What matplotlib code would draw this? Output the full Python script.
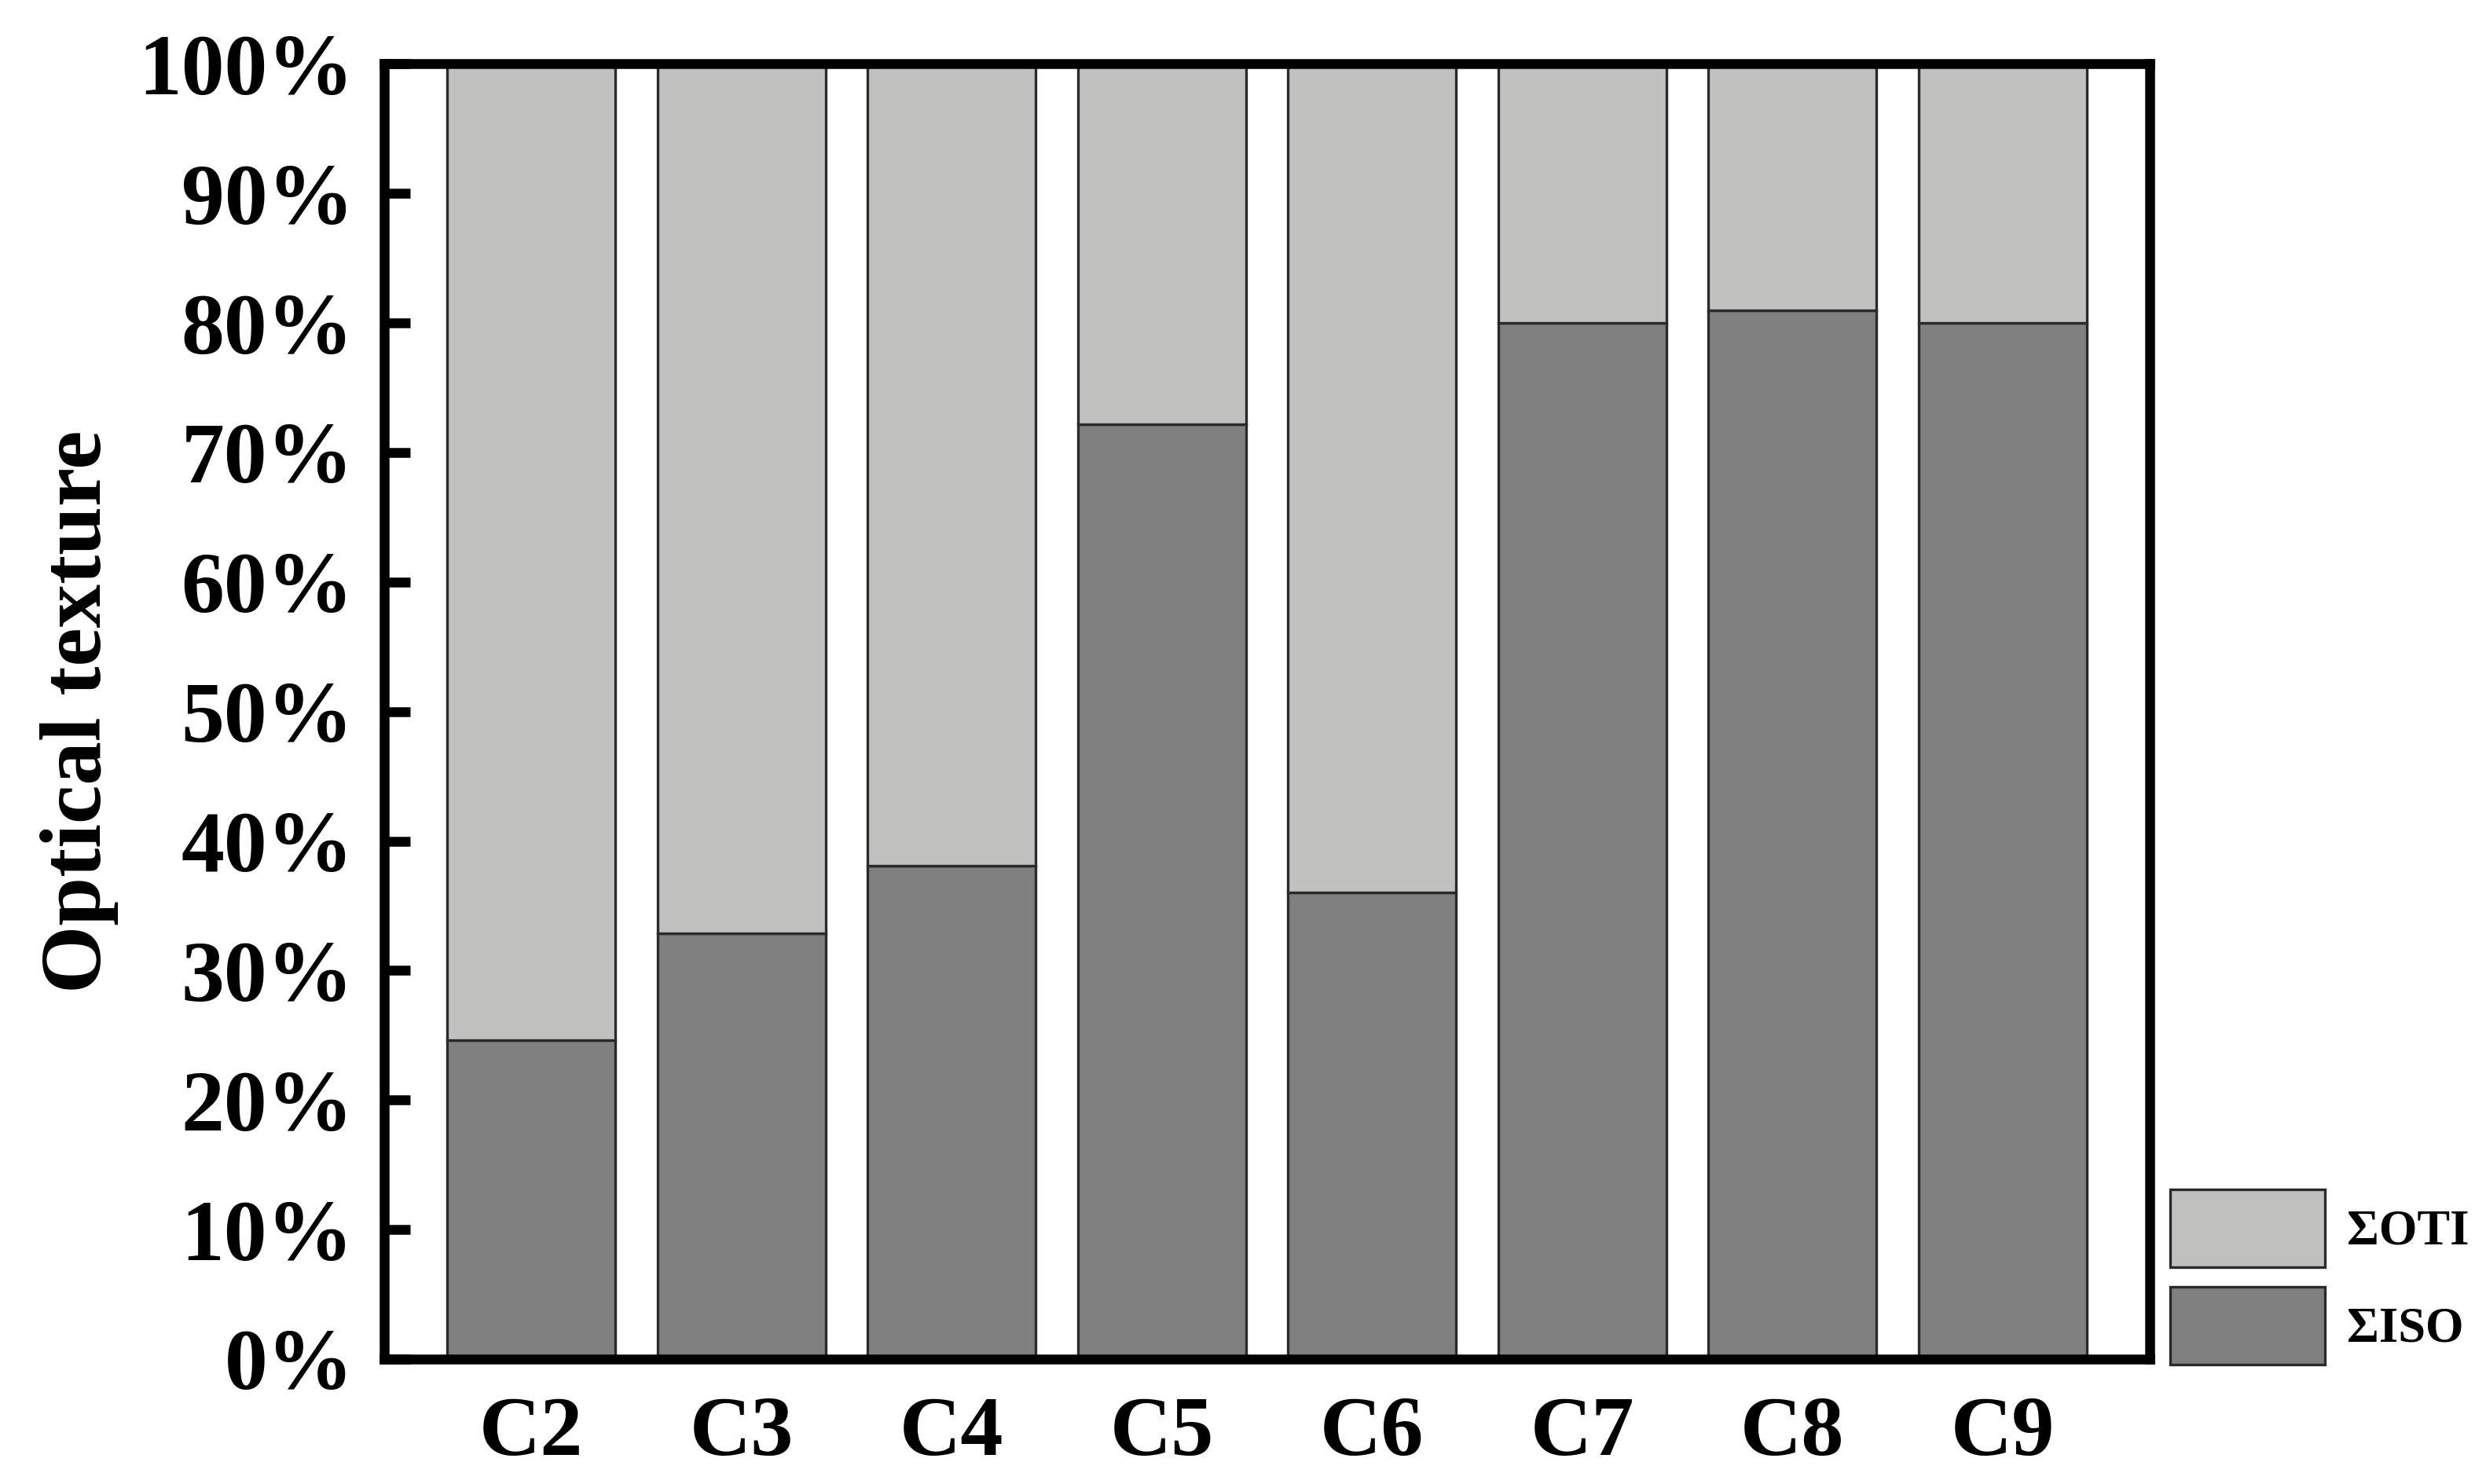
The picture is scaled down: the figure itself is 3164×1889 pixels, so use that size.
import matplotlib
matplotlib.use("Agg")
import matplotlib.pyplot as plt
import numpy as np

# data (percent of optical texture)
samples = ["C2", "C3", "C4", "C5", "C6", "C7", "C8", "C9"]
iso_pct = [24.6, 32.9, 38.1, 72.2, 36.0, 80.0, 81.0, 80.0]
oti_pct = [100 - v for v in iso_pct]
y_ticks = [0, 10, 20, 30, 40, 50, 60, 70, 80, 90, 100]

plt.rcParams['font.family'] = ['Liberation Serif', 'DejaVu Serif']
plt.rcParams['font.weight'] = 'bold'

light_grey = '#c0c0be'
dark_grey = '#808080'

fig = plt.figure(figsize=(15.82, 9.445), dpi=200)
ax = fig.add_axes([0.1545, 0.0842, 0.8647 - 0.1545, 0.9569 - 0.0842])

x = np.arange(len(samples))
bars_iso = ax.bar(x, iso_pct, width=0.8, color=dark_grey, edgecolor='#2a2a2a',
                  linewidth=1.2, label='ΣISO', zorder=2)
bars_oti = ax.bar(x, oti_pct, bottom=iso_pct, width=0.8, color=light_grey,
                  edgecolor='#2a2a2a', linewidth=1.2, label='ΣOTI', zorder=2)

ax.set_xlim(-0.7, len(samples) - 0.3)
ax.set_ylim(0, 100)

ax.set_yticks(y_ticks)
ax.set_yticklabels([f"{v}%" for v in y_ticks])
ax.set_xticks(x)
ax.set_xticklabels(samples)

ax.tick_params(axis='y', direction='in', length=12, width=4.5, pad=14,
               labelsize=39.5)
ax.tick_params(axis='x', length=0, pad=17, labelsize=39)
for lbl in ax.get_xticklabels() + ax.get_yticklabels():
    lbl.set_fontweight('bold')

for side in ['top', 'bottom', 'left', 'right']:
    ax.spines[side].set_linewidth(4.5)
    ax.spines[side].set_color('black')
    ax.spines[side].set_zorder(3)

ax.set_ylabel('Optical texture', fontsize=40, fontweight='bold', labelpad=9)

# legend sits outside the axes, lower right
fig.legend(handles=[bars_oti, bars_iso], labels=['ΣOTI', 'ΣISO'],
           loc='upper left', bbox_to_anchor=(0.8729, 0.1985),
           borderaxespad=0, borderpad=0, frameon=False,
           prop={'size': 22.5, 'weight': 'bold'},
           handlelength=3.15, handleheight=2.06, labelspacing=0.4,
           handletextpad=0.45)

fig.savefig('out.png', dpi=200, facecolor='white')
